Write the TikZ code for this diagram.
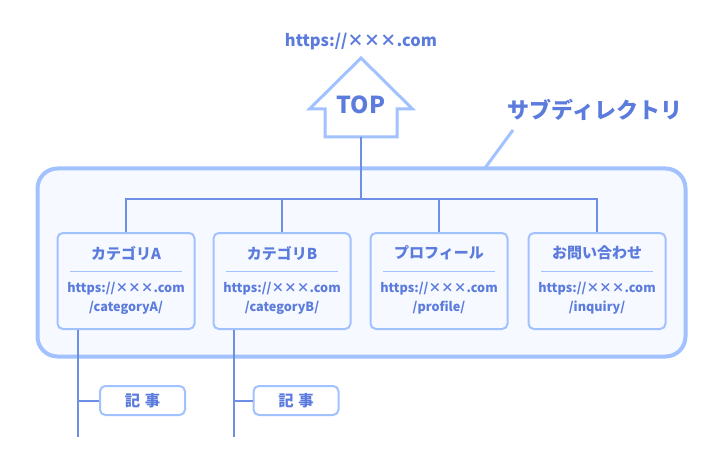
\documentclass[tikz,border=0pt]{standalone}
\usepackage{fontspec}
\setmainfont{Noto Sans CJK JP}
\usetikzlibrary{positioning,calc}
\definecolor{ink}{HTML}{5B7BDD}
\definecolor{wire}{HTML}{6F8EE6}
\definecolor{lite}{HTML}{A2C1FF}
\definecolor{pale}{HTML}{F6F9FF}

\begin{document}
\begin{tikzpicture}[x=0.75pt,y=-0.75pt,
group/.style={draw=lite,line width=3pt,fill=pale,rounded corners=15pt,minimum width=486pt,minimum height=141pt},
card/.style={draw=lite,line width=1.5pt,fill=pale,rounded corners=4pt,minimum width=102.75pt,minimum height=72pt},
post/.style={draw=lite,line width=1.5pt,fill=white,rounded corners=4pt,minimum width=63.75pt,minimum height=21.75pt,text=ink,font=\bfseries\fontsize{11.5pt}{13pt}\selectfont},
ttl/.style={text=ink,font=\bfseries\fontsize{11.25pt}{13pt}\selectfont},
url/.style={text=ink,align=center,font=\bfseries\fontsize{9.5pt}{14.25pt}\selectfont},
sep/.style={draw=lite,line width=0.75pt},
conn/.style={draw=wire,line width=1.5pt},
house/.style={draw=lite,line width=2.25pt,fill=white,line join=miter},
callout/.style={draw=lite,line width=2.25pt}]
\useasboundingbox (0,0) rectangle (721,474);

% top page
\node[text=ink,font=\bfseries\fontsize{12.3pt}{14pt}\selectfont] (site) at (361,42) {https://×××.com};
\draw[house] (361,58) -- (412.5,109) -- (397,109) -- (397,137) -- (325,137) -- (325,109) -- (309.5,109) -- cycle;
\node[text=ink,font=\bfseries\fontsize{17.5pt}{20pt}\selectfont] (top) at (361,105) {TOP};
\coordinate (topbase) at (361,137);

% subdirectory frame
\node[group] (sub) at (361.5,262.5) {};
\node[text=ink,font=\bfseries\fontsize{16.5pt}{18pt}\selectfont] (sublbl) at (595,110) {サブディレクトリ};
\coordinate (tail) at (513,130);
\coordinate (tip) at (485,168);
\draw[callout] (tail) -- (tip);

% cards
\foreach \x/\n/\t/\p in {126/catA/カテゴリA/categoryA, 282/catB/カテゴリB/categoryB,
  439/prof/プロフィール/profile, 597/inq/お問い合わせ/inquiry}{
  \node[card] (\n) at (\x,281) {};
  \node[ttl] (\n-ttl) at (\x,253) {\t};
  \draw[sep] (\x-56,271) -- (\x+56,271);
  \node[url] (\n-url) at (\x,298.5) {https://×××.com\\/\p/};
}
\draw[conn] (topbase) -- (topbase |- 0,200);
\draw[conn] (catA.north) -- ++(0,-33) -| (inq.north);
\draw[conn] (catB.north) -- ++(0,-33);
\draw[conn] (prof.north) -- ++(0,-33);

% articles
\node[post] (postA) at (142.5,400.5) {記\hspace{0.3em}事};
\node[post] (postB) at (296,400.5) {記\hspace{0.3em}事};
\foreach \n/\p in {catA/postA, catB/postB}{
  \coordinate (\n-end) at ($(\n.south west)+(21.5,107)$);
  \draw[conn] ($(\n.south west)+(21.5,0)$) -- (\n-end);
  \draw[conn] (\p.west) -- (\p.west -| \n-end);
}
\end{tikzpicture}
\end{document}
